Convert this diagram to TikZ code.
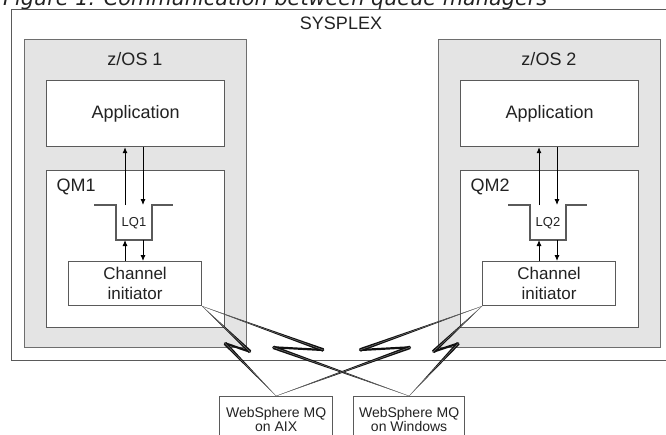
\documentclass[tikz,border=0pt]{standalone}
\usepackage{fontspec}
\setmainfont{Liberation Sans}
\newfontfamily\titlefont{DejaVu Sans}
\usetikzlibrary{arrows.meta,calc}
\definecolor{zosfill}{HTML}{E4E4E4}
\definecolor{zosline}{HTML}{6E6E6E}
\definecolor{boxline}{HTML}{5A5A5A}
\definecolor{txt}{HTML}{222222}
\definecolor{boltc}{HTML}{111111}
\newcommand\ZosBlock[2]{%
\begin{scope}[xshift=#1]
  \node[zos, minimum width=222, minimum height=308] (zos#2) at (24,39) {};
  \node[lbl] (zoslbl#2) at (135,59) {z/OS #2};
  \node[wbox, minimum width=178, minimum height=66, lbl] (app#2) at (46,80) {Application};
  \node[wbox, minimum width=178, minimum height=157] (qm#2) at (46,170) {};
  \node[lbl, anchor=base west] (qmlbl#2) at (53,191) {QM#2};
  \draw[lqline] (94,205) -- (116,205) -- (116,240) -- (152,240) -- (152,205) -- (173,205);
  \node[lqlbl] (lq#2) at (134,223) {LQ#2};
  \node[wbox, minimum width=133, minimum height=44, align=center,
        font=\fontsize{17}{20}\selectfont, text=txt] (ci#2) at (68,261) {Channel\\initiator};
  \coordinate (ua#2) at (125,205);
  \coordinate (da#2) at (143,205);
  \coordinate (ub#2) at (125,240);
  \coordinate (db#2) at (143,240);
\end{scope}
\draw[arr] (ua#2) -- (ua#2 |- app#2.south);
\draw[arr] (da#2 |- app#2.south) -- (da#2);
\draw[arr] (ub#2 |- ci#2.north) -- (ub#2);
\draw[arr] (db#2) -- (db#2 |- ci#2.north);
}
\newcommand\Bolt[4]{%
  \fill[boltc] (#1) -- ($(#2)!1.8pt!90:(#1)$) -- ($(#2)!1.8pt!-90:(#1)$) -- cycle;
  \fill[boltc] (#4) -- ($(#3)!1.8pt!90:(#4)$) -- ($(#3)!1.8pt!-90:(#4)$) -- cycle;
  \draw[boltc, line width=2.2pt, line cap=round, line join=round] (#2) -- (#3);
  \draw[gray, line width=0.4pt] (#1) -- (#2) (#3) -- (#4);
}
\begin{document}
\begin{tikzpicture}[x=1pt, y=-1pt,
  zos/.style={draw=zosline, line width=1.4pt, fill=zosfill, anchor=north west, inner sep=0pt},
  wbox/.style={draw=boxline, line width=1.2pt, fill=white, anchor=north west, inner sep=0pt},
  lbl/.style={font=\fontsize{18}{20}\selectfont, text=txt},
  lqlbl/.style={font=\fontsize{13}{14}\selectfont, text=txt},
  small/.style={font=\fontsize{14}{14.5}\selectfont, text=txt, align=center, inner sep=0pt},
  lqline/.style={draw=boxline, line width=1.1pt},
  arr/.style={draw=black, line width=0.9pt, -{Latex[length=6pt,width=5pt]}}]
\useasboundingbox (0,0) rectangle (666,434);
% title
\node[anchor=base west, inner sep=0pt, text=txt,
      font=\titlefont\itshape\fontsize{20.8}{21}\selectfont] (title) at (3,5) {Figure 1. Communication between queue managers};
% sysplex
\draw[boxline, line width=1pt] (700,9) -- (11,9) -- (11,360) -- (700,360);
\node[lbl] (sysplex) at (341,23) {SYSPLEX};
\ZosBlock{0pt}{1}
\ZosBlock{414pt}{2}
% external systems
\node[wbox, minimum width=113, minimum height=60] (aix) at (219,396) {};
\node[small] (aixlbl) at ($(aix.north)+(0,23.5)$) {WebSphere MQ\\on AIX};
\node[wbox, minimum width=111, minimum height=60] (win) at (353,396) {};
\node[small] (winlbl) at ($(win.north)+(0,23.5)$) {WebSphere MQ\\on Windows};
% bolts
\coordinate (a1) at (250,351.7); \coordinate (a2) at (225,343.3);
\coordinate (b1) at (323.3,350); \coordinate (b2) at (273.3,347.3);
\coordinate (c1) at (360,350);   \coordinate (c2) at (410,347.3);
\coordinate (d1) at (433.3,351.7); \coordinate (d2) at (458.3,343.3);
\Bolt{ci1.south east}{a1}{a2}{aix.north}
\Bolt{ci1.south east}{b1}{b2}{win.north}
\Bolt{ci2.south west}{c1}{c2}{aix.north}
\Bolt{ci2.south west}{d1}{d2}{win.north}
\end{tikzpicture}
\end{document}
